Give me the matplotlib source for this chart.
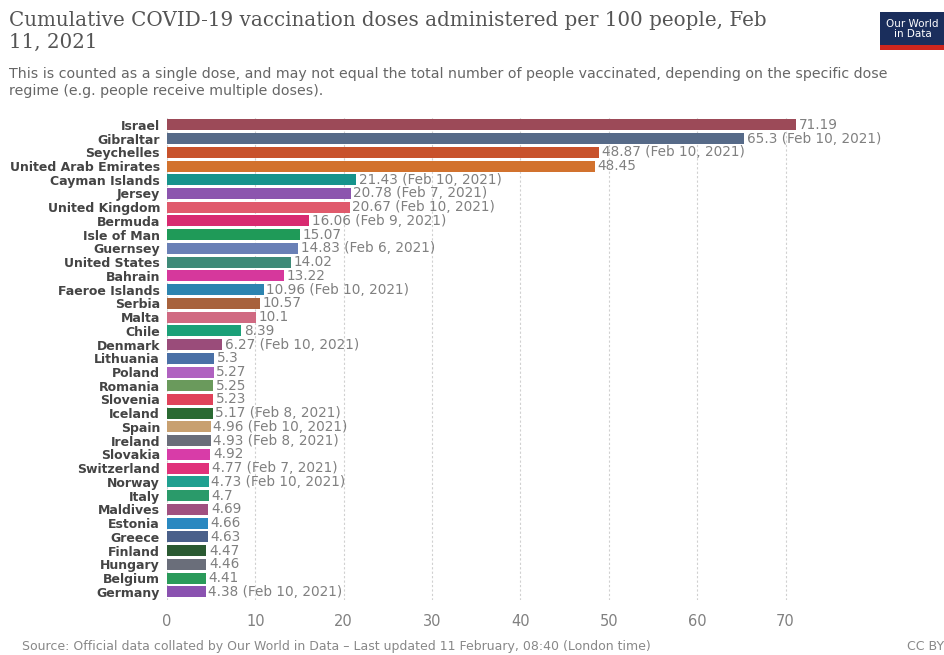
import matplotlib.pyplot as plt
from matplotlib.patches import Rectangle

countries = ["Israel", "Gibraltar", "Seychelles", "United Arab Emirates", "Cayman Islands",
             "Jersey", "United Kingdom", "Bermuda", "Isle of Man", "Guernsey",
             "United States", "Bahrain", "Faeroe Islands", "Serbia", "Malta", "Chile",
             "Denmark", "Lithuania", "Poland", "Romania", "Slovenia", "Iceland", "Spain",
             "Ireland", "Slovakia", "Switzerland", "Norway", "Italy", "Maldives",
             "Estonia", "Greece", "Finland", "Hungary", "Belgium", "Germany"]
values = [71.19, 65.3, 48.87, 48.45, 21.43, 20.78, 20.67, 16.06, 15.07, 14.83,
          14.02, 13.22, 10.96, 10.57, 10.1, 8.39, 6.27, 5.3, 5.27, 5.25, 5.23, 5.17,
          4.96, 4.93, 4.92, 4.77, 4.73, 4.7, 4.69, 4.66, 4.63, 4.47, 4.46, 4.41, 4.38]
dates = ["", "Feb 10, 2021", "Feb 10, 2021", "", "Feb 10, 2021", "Feb 7, 2021",
         "Feb 10, 2021", "Feb 9, 2021", "", "Feb 6, 2021", "", "", "Feb 10, 2021",
         "", "", "", "Feb 10, 2021", "", "", "", "", "Feb 8, 2021", "Feb 10, 2021",
         "Feb 8, 2021", "", "Feb 7, 2021", "Feb 10, 2021", "", "", "", "", "", "",
         "", "Feb 10, 2021"]
colors = ["#9c4a58", "#566a88", "#c8522c", "#d2722e", "#16938c", "#8c55ae",
          "#e05a6c", "#d82a70", "#1f9a58", "#6a80b6", "#3e8a78", "#d6389c",
          "#2c84b0", "#a8623c", "#d06a82", "#1ba078", "#9a4c7a", "#4a70a6",
          "#b062c0", "#6a9a5c", "#e0425a", "#2a6a32", "#c8a070", "#6a6e7a",
          "#d83ca8", "#e0327a", "#20a090", "#2a9a6a", "#a05080", "#2a88c0",
          "#4a608a", "#2a5a32", "#6a6e7a", "#2a9a5a", "#8a52b0"]
xticks = [0, 10, 20, 30, 40, 50, 60, 70]

fig = plt.figure(figsize=(9.45, 6.55), dpi=100)
ax = fig.add_axes([0.1767, 0.084, 0.7, 0.738])

y = list(range(len(countries)))
ax.barh(y, values, height=0.8, color=colors, zorder=2)
ax.set_ylim(len(countries) - 0.4, -0.6)
ax.set_xlim(0, 74.85)

for yi, v, d in zip(y, values, dates):
    lab = f"{v:g}" + (f" ({d})" if d else "")
    ax.text(v + 0.3, yi, lab, va="center", ha="left", fontsize=9.8,
            color="#808080", clip_on=False)

ax.set_yticks(y)
ax.set_yticklabels(countries, fontsize=9, fontweight="bold", color="#444444")
ax.tick_params(axis="y", length=0, pad=5)
ax.set_xticks(xticks)
ax.tick_params(axis="x", length=0, labelsize=10.5, colors="#808080", pad=10)
ax.grid(axis="x", linestyle=(0, (2, 2)), color="#d0d0d0", linewidth=0.8, zorder=0)
for s in ax.spines.values():
    s.set_visible(False)

fig.text(0.009, 0.983, "Cumulative COVID-19 vaccination doses administered per 100 people, Feb\n11, 2021",
         fontsize=14.3, family="DejaVu Serif", color="#555555", va="top", linespacing=1.2)
fig.text(0.009, 0.897, "This is counted as a single dose, and may not equal the total number of people vaccinated, depending on the specific dose\nregime (e.g. people receive multiple doses).",
         fontsize=10.2, color="#666666", va="top", linespacing=1.25)
fig.text(0.023, 0.003, "Source: Official data collated by Our World in Data \u2013 Last updated 11 February, 08:40 (London time)",
         fontsize=9, color="#888888", va="bottom")
fig.text(0.999, 0.003, "CC BY", fontsize=9, color="#888888", va="bottom", ha="right")

# logo
fig.patches.append(Rectangle((0.931, 0.93), 0.069, 0.052, transform=fig.transFigure,
                             facecolor="#1a2e5c", edgecolor="none"))
fig.patches.append(Rectangle((0.931, 0.924), 0.069, 0.007, transform=fig.transFigure,
                             facecolor="#ce261e", edgecolor="none"))
fig.text(0.9655, 0.956, "Our World\nin Data", fontsize=7.5, color="white", ha="center",
         va="center", linespacing=0.95)

fig.savefig("out.png", dpi=100, facecolor="white")
